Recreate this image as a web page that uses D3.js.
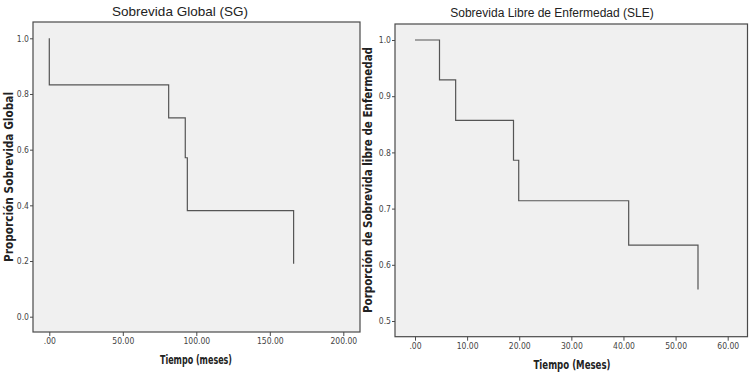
<!DOCTYPE html>
<html><head><meta charset="utf-8">
<script src="https://cdn.jsdelivr.net/npm/d3@7"></script>
<style>html,body{margin:0;padding:0;background:#fff;}svg{display:block;}</style>
</head><body>
<svg id="chart" width="749" height="373"></svg>
<script>
// ---- Data ----
const sgTitle = "Sobrevida Global (SG)";
const sgTimes = [0, 0, 81.2, 92.5, 93.9, 166.2];
const sgSurv  = [1.0, 0.833, 0.714, 0.571, 0.381, 0.190];
const sgXTicks = [0, 50, 100, 150, 200];
const sgYTicks = [0.0, 0.2, 0.4, 0.6, 0.8, 1.0];
const sgXLabel = "Tiempo (meses)";
const sgYLabel = "Proporción Sobrevida Global";

const sleTitle = "Sobrevida Libre de Enfermedad (SLE)";
const sleTimes = [0, 4.7, 7.8, 18.9, 19.9, 41.0, 54.3];
const sleSurv  = [1.0, 0.929, 0.857, 0.786, 0.714, 0.635, 0.556];
const sleXTicks = [0, 10, 20, 30, 40, 50, 60];
const sleYTicks = [0.5, 0.6, 0.7, 0.8, 0.9, 1.0];
const sleXLabel = "Tiempo (Meses)";
const sleYLabel = "Porporción de Sobrevida libre de Enfermedad";

// ---- Layout ----
const panels = [
  {title: sgTitle, times: sgTimes, surv: sgSurv, xTicks: sgXTicks, yTicks: sgYTicks,
   xLabel: sgXLabel, yLabel: sgYLabel,
   frame: {x0: 33, x1: 360, y0: 22, y1: 332},
   xDomain: [0, 200], xRange: [49.3, 343.3],
   yDomain: [0, 1], yRange: [316.7, 38.3],
   titleX: 180, titleY: 16, titleSize: 13.5,
   xLabX: 196, xLabY: 364, xLabLen: 72,
   yLabX: 13, yLabY: 177, yLabLen: 170},
  {title: sleTitle, times: sleTimes, surv: sleSurv, xTicks: sleXTicks, yTicks: sleYTicks,
   xLabel: sleXLabel, yLabel: sleYLabel,
   frame: {x0: 395, x1: 747.5, y0: 24, y1: 336.7},
   xDomain: [0, 60], xRange: [415, 727.7],
   yDomain: [0.5, 1], yRange: [321, 40],
   titleX: 552, titleY: 17, titleSize: 12,
   xLabX: 572, xLabY: 368.5, xLabLen: 77,
   yLabX: 372, yLabY: 180, yLabLen: 266}
];

const svg = d3.select("#chart");
const tickFont = "'Liberation Sans Narrow','DejaVu Sans Condensed','Liberation Sans',sans-serif";
const labFont = "'DejaVu Sans Condensed','DejaVu Sans',sans-serif";

panels.forEach(p => {
  const g = svg.append("g");
  const x = d3.scaleLinear().domain(p.xDomain).range(p.xRange);
  const y = d3.scaleLinear().domain(p.yDomain).range(p.yRange);
  const f = p.frame;

  g.append("rect").attr("x", f.x0).attr("y", f.y0)
    .attr("width", f.x1 - f.x0).attr("height", f.y1 - f.y0)
    .attr("fill", "#f0f0f0").attr("stroke", "#4a4a4a").attr("stroke-width", 1.2);

  const yAxis = d3.axisLeft(y).tickValues(p.yTicks).tickSize(3).tickPadding(1)
    .tickFormat(d3.format(".1f"));
  const ya = g.append("g").attr("transform", `translate(${f.x0},0)`).call(yAxis);
  const xAxis = d3.axisBottom(x).tickValues(p.xTicks).tickSize(4).tickPadding(2)
    .tickFormat(d => d === 0 ? ".00" : d3.format(".2f")(d));
  const xa = g.append("g").attr("transform", `translate(0,${f.y1})`).call(xAxis);
  [ya, xa].forEach(a => {
    a.select(".domain").remove();
    a.selectAll(".tick line").attr("stroke", "#4a4a4a");
    a.selectAll(".tick text").attr("fill", "#444").style("font-family", tickFont).style("font-size", "8.5px");
  });

  const pts = p.times.map((t, i) => [t, p.surv[i]]);
  const line = d3.line().x(d => x(d[0])).y(d => y(d[1])).curve(d3.curveStepAfter);
  g.append("path").attr("d", line(pts)).attr("fill", "none")
    .attr("stroke", "#555").attr("stroke-width", 1.2);

  g.append("text").attr("x", p.titleX).attr("y", p.titleY).attr("text-anchor", "middle")
    .style("font-family", "'Liberation Sans',Arial,sans-serif").style("font-size", p.titleSize + "px")
    .attr("fill", "#222").text(p.title);

  g.append("text").attr("x", p.xLabX).attr("y", p.xLabY).attr("text-anchor", "middle")
    .style("font-family", labFont).style("font-size", "12.5px").style("font-weight", "bold")
    .attr("textLength", p.xLabLen).attr("lengthAdjust", "spacingAndGlyphs")
    .attr("fill", "#222").text(p.xLabel);

  g.append("text").attr("transform", `translate(${p.yLabX},${p.yLabY}) rotate(-90)`)
    .attr("text-anchor", "middle")
    .style("font-family", labFont).style("font-size", "12px").style("font-weight", "bold")
    .attr("textLength", p.yLabLen).attr("lengthAdjust", "spacingAndGlyphs")
    .attr("fill", "#222").text(p.yLabel);
});
</script>
</body></html>
